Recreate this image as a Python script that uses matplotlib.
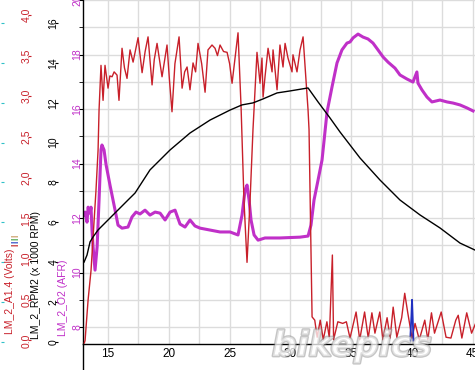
import matplotlib
matplotlib.use("Agg")
import matplotlib.pyplot as plt
import matplotlib.patheffects as pe
from matplotlib.ticker import MultipleLocator, FormatStrFormatter

plt.rcParams["font.family"] = ["Liberation Sans", "DejaVu Sans"]

# LM_2_A1.4 (Volts), red trace
volts_x = [13.05, 13.11, 13.36, 13.60, 13.77, 14.01, 14.18, 14.26, 14.42, 14.59,
           14.75, 15.0, 15.15, 15.33, 15.5, 15.74, 15.90, 16.15, 16.35, 16.56,
           16.81, 17.06, 17.47, 17.80, 18.05, 18.29, 18.62, 18.8, 19.03, 19.44,
           19.85, 20.05, 20.26, 20.5, 20.84, 21.09, 21.3, 21.50, 21.74, 21.99,
           22.2, 22.40, 22.7, 22.98, 23.22, 23.55, 23.80, 24.0, 24.21, 24.5,
           24.79, 25.0, 25.20, 25.69, 25.94, 26.18, 26.43, 26.68, 26.92, 27.25,
           27.50, 27.66, 27.75, 27.91, 28.16, 28.49, 28.57, 28.90, 29.14, 29.39,
           29.56, 29.80, 30.13, 30.21, 30.54, 30.79, 31.04, 31.28, 31.45, 31.53,
           31.69, 31.78, 32.0, 32.2, 32.45, 32.7, 33.0, 33.2, 33.45, 33.55,
           33.9, 34.3, 34.6, 34.9, 35.4, 35.7, 36.1, 36.4, 36.7, 36.95,
           37.35, 37.6, 37.95, 38.2, 38.45, 38.75, 39.15, 39.4, 39.65, 40.0,
           40.25, 40.6, 41.05, 41.3, 41.6, 41.85, 42.4, 42.8, 43.2, 43.6,
           43.8, 44.1, 44.5, 44.9, 45.2]
volts_y = [-0.03, 0.0, 0.5, 0.86, 1.27, 1.85, 2.34, 2.83, 3.38, 2.95,
           3.38, 3.10, 3.25, 3.24, 3.30, 3.26, 2.95, 3.59, 3.35, 3.22,
           3.57, 3.42, 3.72, 3.29, 3.55, 3.73, 3.14, 3.45, 3.65, 3.24,
           3.63, 3.20, 2.81, 3.40, 3.73, 3.10, 3.30, 3.36, 3.08, 3.41,
           3.30, 3.65, 3.40, 3.05, 3.57, 3.63, 3.59, 3.50, 3.63, 3.55,
           3.54, 3.40, 3.16, 3.78, 2.87, 1.72, 0.96, 1.72, 2.59, 3.54,
           3.16, 3.47, 2.99, 3.24, 3.59, 3.30, 3.57, 3.08, 3.63, 3.36,
           3.65, 3.47, 3.30, 3.51, 3.30, 3.57, 3.73, 3.20, 2.83, 2.59,
           1.11, 0.29, 0.25, 0.04, 0.25, 0.01, 0.23, 0.03, 1.05, 0.01,
           0.23, 0.21, 0.23, 0.03, 0.35, 0.01, 0.35, 0.03, 0.34, 0.09,
           0.35, 0.01, 0.28, 0.03, 0.41, 0.04, 0.28, 0.58, 0.34, 0.03,
           0.21, 0.01, 0.25, 0.01, 0.34, 0.09, 0.35, 0.04, 0.03, 0.25,
           0.31, 0.03, 0.34, 0.09, 0.20]

# blue spike near 40
blue_x = [39.85, 39.95, 40.0, 40.05, 40.12]
blue_y = [0.0, 0.3, 0.5, 0.3, 0.0]

# LM_2_RPM2 (x 1000 RPM), black trace
rpm_x = [13.03, 13.27, 13.52, 13.77, 14.18, 15.0, 15.82, 16.64, 17.22, 18.45,
         20.10, 21.74, 23.39, 25.03, 26.02, 26.92, 27.75, 28.90, 29.97, 31.45,
         32.27, 33.26, 34.08, 35.72, 37.37, 39.01, 40.66, 42.30, 43.95, 45.18]
rpm_y = [4.01, 4.36, 5.02, 5.27, 5.62, 6.12, 6.62, 7.12, 7.47, 8.63,
         9.63, 10.48, 11.13, 11.63, 11.89, 11.99, 12.19, 12.49, 12.59, 12.74,
         12.04, 11.23, 10.53, 9.23, 8.12, 7.12, 6.37, 5.72, 4.96, 4.61]

# LM_2_O2 (AFR), magenta trace
afr_x = [13.03, 13.11, 13.27, 13.36, 13.52, 13.60, 13.68, 13.77, 13.93, 14.10,
         14.26, 14.42, 14.5, 14.67, 14.84, 15.16, 15.41, 15.66, 15.82, 16.15,
         16.64, 16.97, 17.30, 17.63, 18.04, 18.45, 18.87, 19.28, 19.69, 20.10,
         20.51, 20.92, 21.33, 21.74, 22.15, 22.57, 23.39, 24.21, 25.03, 25.69,
         26.02, 26.27, 26.43, 26.60, 26.76, 27.01, 27.34, 27.91, 29.14, 30.79,
         31.45, 31.69, 31.94, 32.27, 32.60, 33.01, 33.42, 33.83, 34.24, 34.65,
         34.90, 35.15, 35.56, 35.97, 36.38, 36.79, 37.20, 37.62, 38.03, 38.60,
         39.01, 39.59, 40.08, 40.4, 40.49, 40.82, 41.23, 41.64, 42.30, 42.88,
         43.37, 43.95, 44.52, 45.02]
afr_y = [12.11, 12.22, 11.85, 12.40, 12.18, 12.40, 11.56, 10.94, 10.09, 10.94,
         12.66, 14.50, 14.68, 14.50, 13.95, 13.21, 12.66, 12.11, 11.74, 11.63,
         11.67, 12.04, 12.22, 12.15, 12.29, 12.11, 12.22, 12.18, 11.93, 12.22,
         12.29, 11.78, 11.67, 11.93, 11.71, 11.63, 11.56, 11.49, 11.49, 11.38,
         12.11, 13.03, 13.21, 12.66, 11.93, 11.38, 11.19, 11.27, 11.27, 11.30,
         11.34, 11.74, 12.66, 13.39, 14.13, 15.89, 16.81, 17.69, 18.17, 18.42,
         18.46, 18.61, 18.75, 18.64, 18.57, 18.42, 18.17, 17.91, 17.72, 17.50,
         17.25, 17.10, 16.99, 17.36, 16.95, 16.70, 16.44, 16.26, 16.33, 16.26,
         16.22, 16.15, 16.04, 15.93]

RED = "#c8202a"
MAG = "#c030c8"
CYAN = "#30c0c8"

fig = plt.figure(figsize=(4.75, 3.7), dpi=100)
ax = fig.add_axes([83 / 475, 26 / 370, 392 / 475, 344 / 370])

# host axis: AFR + grid + x axis
ax.set_xlim(12.94, 45.18)
ax.set_ylim(7.38, 20.0)
ax.xaxis.set_major_locator(MultipleLocator(5))
ax.xaxis.set_minor_locator(MultipleLocator(2.5))
ax.yaxis.set_major_locator(MultipleLocator(2))
ax.yaxis.set_minor_locator(MultipleLocator(1))
ax.grid(True, which="both", color="#dcdcdc", linewidth=1)
ax.set_axisbelow(True)
for s in ("top", "right"):
    ax.spines[s].set_visible(False)
for s in ("left", "bottom"):
    ax.spines[s].set_color("black")
    ax.spines[s].set_linewidth(1)
ax.tick_params(axis="x", which="both", length=0, pad=3, labelsize=8.5)
ax.tick_params(axis="y", which="major", length=3, pad=-2.5, labelsize=7.5,
               labelcolor=MAG, labelrotation=90)
ax.tick_params(axis="y", which="minor", length=3)
plt.setp(ax.get_yticklabels(), va="center")
ax.plot(afr_x, afr_y, color=MAG, linewidth=2.2, zorder=2)
# left spine runs past the x axis down to the figure edge
ax.plot([0, 0], [0, -26 / 344], color="black", linewidth=1,
        transform=ax.transAxes, clip_on=False)


def left_twin(offset, ylim, step, color, show_labels=True):
    tw = ax.twinx()
    tw.set_ylim(*ylim)
    tw.yaxis.set_major_locator(MultipleLocator(step))
    tw.yaxis.tick_left()
    tw.spines["left"].set_position(("axes", offset))
    for s in tw.spines.values():
        s.set_visible(False)
    tw.tick_params(axis="y", length=2, pad=-2.5, labelsize=7.5,
                   labelrotation=90, color=color, labelcolor=color,
                   labelleft=show_labels)
    return tw


ax_c = left_twin(-0.2015, (-0.10, 17.15), 2, CYAN, show_labels=False)
ax_v = left_twin(-0.1327, (-0.043, 4.183), 0.5, RED)
ax_v.yaxis.set_major_formatter(FormatStrFormatter("%.1f"))
ax_r = left_twin(-0.0638, (-0.10, 17.15), 2, "black")
for tw in (ax_v, ax_r):
    plt.setp(tw.get_yticklabels(), va="center")

ax_v.plot(volts_x, volts_y, color=RED, linewidth=1)
ax_v.plot(blue_x, blue_y, color="#2030c0", linewidth=1.3)
ax_r.plot(rpm_x, rpm_y, color="black", linewidth=1)

# axis titles, rotated, anchored at their lower end
fig.text(10 / 475, 1 - 334 / 370, "LM_2_A1.4 (Volts)", rotation=90,
         ha="center", va="bottom", fontsize=7.5, color=RED)
fig.text(36 / 475, 1 - 339 / 370, "LM_2_RPM2 (x 1000 RPM)", rotation=90,
         ha="center", va="bottom", fontsize=7.5, color="black")
fig.text(63 / 475, 1 - 336 / 370, "LM_2_O2 (AFR)", rotation=90,
         ha="center", va="bottom", fontsize=7.5, color=MAG)
for i, c in enumerate(["#c89860", "#40a040", "#2040c0", "#c02020"]):
    fig.text(14.5 / 475, 1 - (236 + 3 * i) / 370, "|", rotation=90,
             ha="center", va="center", fontsize=6, color=c,
             fontweight="bold")

# watermark
fig.text(352 / 475, 1 - 346 / 370, "bikepics", fontsize=25, fontstyle="italic",
         fontweight="bold", color="white", alpha=0.5, ha="center",
         va="center", family="DejaVu Sans",
         path_effects=[pe.withStroke(linewidth=2, foreground="#8c8c8c")])

fig.savefig("out.png", dpi=100)
